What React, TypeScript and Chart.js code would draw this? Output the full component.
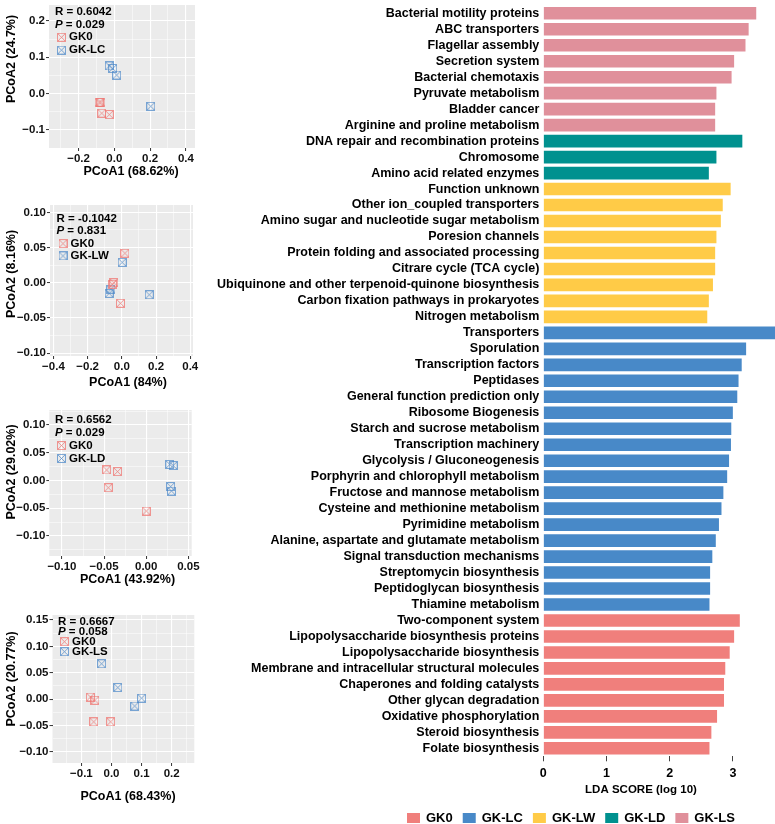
import React, { useEffect, useRef } from "react";
import { Chart, registerables } from "chart.js";

Chart.register(...registerables);

const FONT = "'Liberation Sans', Arial, Helvetica, sans-serif";
Chart.defaults.font.family = FONT;

// ---------- LEfSe: discriminant features (top to bottom) ----------
const features = [
  "Bacterial motility proteins",
  "ABC transporters",
  "Flagellar assembly",
  "Secretion system",
  "Bacterial chemotaxis",
  "Pyruvate metabolism",
  "Bladder cancer",
  "Arginine and proline metabolism",
  "DNA repair and recombination proteins",
  "Chromosome",
  "Amino acid related enzymes",
  "Function unknown",
  "Other ion_coupled transporters",
  "Amino sugar and nucleotide sugar metabolism",
  "Poresion channels",
  "Protein folding and associated processing",
  "Citrare cycle (TCA cycle)",
  "Ubiquinone and other terpenoid-quinone biosynthesis",
  "Carbon fixation pathways in prokaryotes",
  "Nitrogen metabolism",
  "Transporters",
  "Sporulation",
  "Transcription factors",
  "Peptidases",
  "General function prediction only",
  "Ribosome Biogenesis",
  "Starch and sucrose metabolism",
  "Transcription machinery",
  "Glycolysis / Gluconeogenesis",
  "Porphyrin and chlorophyll metabolism",
  "Fructose and mannose metabolism",
  "Cysteine and methionine metabolism",
  "Pyrimidine metabolism",
  "Alanine, aspartate and glutamate metabolism",
  "Signal transduction mechanisms",
  "Streptomycin biosynthesis",
  "Peptidoglycan biosynthesis",
  "Thiamine metabolism",
  "Two-component system",
  "Lipopolysaccharide biosynthesis proteins",
  "Lipopolysaccharide biosynthesis",
  "Membrane and intracellular structural molecules",
  "Chaperones and folding catalysts",
  "Other glycan degradation",
  "Oxidative phosphorylation",
  "Steroid biosynthesis",
  "Folate biosynthesis",
];

const ldaScores = [
  3.37, 3.25, 3.2, 3.02, 2.98, 2.74, 2.72, 2.72,
  3.15, 2.74, 2.62,
  2.965, 2.84, 2.81, 2.74, 2.72, 2.72, 2.685, 2.62, 2.595,
  3.68, 3.21, 3.14, 3.09, 3.07, 3.0, 2.975, 2.97, 2.94, 2.91, 2.85, 2.82, 2.78, 2.73, 2.675, 2.64, 2.64, 2.63,
  3.11, 3.02, 2.95, 2.88, 2.86, 2.86, 2.75, 2.66, 2.63,
];

const featureGroups = [
  "GK-LS", "GK-LS", "GK-LS", "GK-LS", "GK-LS", "GK-LS", "GK-LS", "GK-LS",
  "GK-LD", "GK-LD", "GK-LD",
  "GK-LW", "GK-LW", "GK-LW", "GK-LW", "GK-LW", "GK-LW", "GK-LW", "GK-LW", "GK-LW",
  "GK-LC", "GK-LC", "GK-LC", "GK-LC", "GK-LC", "GK-LC", "GK-LC", "GK-LC", "GK-LC",
  "GK-LC", "GK-LC", "GK-LC", "GK-LC", "GK-LC", "GK-LC", "GK-LC", "GK-LC", "GK-LC",
  "GK0", "GK0", "GK0", "GK0", "GK0", "GK0", "GK0", "GK0", "GK0",
];

const legendGroups = ["GK0", "GK-LC", "GK-LW", "GK-LD", "GK-LS"];
const ldaTicks = [0, 1, 2, 3];
const ldaMax = 3.667;

const groupColors: Record<string, string> = {
  GK0: "#F07F7C",
  "GK-LC": "#4889C8",
  "GK-LW": "#FFCB47",
  "GK-LD": "#00918F",
  "GK-LS": "#E0909B",
};

// ---------- PCoA: GK0 vs GK-LC ----------
const lcGk0X = [-0.085, -0.075, -0.07, -0.028];
const lcGk0Y = [-0.024, -0.024, -0.054, -0.058];
const lcX = [-0.028, -0.009, 0.013, 0.204];
const lcY = [0.076, 0.069, 0.051, -0.035];

// ---------- PCoA: GK0 vs GK-LW ----------
const lwGk0X = [0.018, -0.047, -0.055, -0.008];
const lwGk0Y = [0.042, 0.0, -0.002, -0.029];
const lwX = [0.002, -0.064, -0.074, 0.16];
const lwY = [0.029, -0.009, -0.015, -0.017];

// ---------- PCoA: GK0 vs GK-LD ----------
const ldGk0X = [-0.047, -0.034, -0.045, 0.0];
const ldGk0Y = [0.019, 0.016, -0.013, -0.055];
const ldX = [0.028, 0.032, 0.029, 0.03];
const ldY = [0.029, 0.027, -0.011, -0.019];

// ---------- PCoA: GK0 vs GK-LS ----------
const lsGk0X = [-0.07, -0.055, -0.059, -0.003];
const lsGk0Y = [0.004, -0.002, -0.043, -0.043];
const lsX = [-0.033, 0.021, 0.1, 0.077];
const lsY = [0.067, 0.022, 0.002, -0.013];

type PcoaSpec = {
  group: string;
  r: string;
  p: string;
  gk0X: number[];
  gk0Y: number[];
  grpX: number[];
  grpY: number[];
  xRange: [number, number];
  yRange: [number, number];
  xTicks: number[];
  yTicks: number[];
  xDec: number;
  yDec: number;
  xTitle: string;
  yTitle: string;
};

const pcoaPanels: PcoaSpec[] = [
  {
    group: "GK-LC", r: "0.6042", p: "0.029",
    gk0X: lcGk0X, gk0Y: lcGk0Y, grpX: lcX, grpY: lcY,
    xRange: [-0.365, 0.451], yRange: [-0.15, 0.244],
    xTicks: [-0.2, 0, 0.2, 0.4], yTicks: [-0.1, 0, 0.1, 0.2], xDec: 1, yDec: 1,
    xTitle: "PCoA1 (68.62%)", yTitle: "PCoA2 (24.7%)",
  },
  {
    group: "GK-LW", r: "-0.1042", p: "0.831",
    gk0X: lwGk0X, gk0Y: lwGk0Y, grpX: lwX, grpY: lwY,
    xRange: [-0.42, 0.416], yRange: [-0.104, 0.1105],
    xTicks: [-0.4, -0.2, 0, 0.2, 0.4], yTicks: [-0.1, -0.05, 0, 0.05, 0.1], xDec: 1, yDec: 2,
    xTitle: "PCoA1 (84%)", yTitle: "PCoA2 (8.16%)",
  },
  {
    group: "GK-LD", r: "0.6562", p: "0.029",
    gk0X: ldGk0X, gk0Y: ldGk0Y, grpX: ldX, grpY: ldY,
    xRange: [-0.115, 0.054], yRange: [-0.136, 0.127],
    xTicks: [-0.1, -0.05, 0, 0.05], yTicks: [-0.1, -0.05, 0, 0.05, 0.1], xDec: 2, yDec: 2,
    xTitle: "PCoA1 (43.92%)", yTitle: "PCoA2 (29.02%)",
  },
  {
    group: "GK-LS", r: "0.6667", p: "0.058",
    gk0X: lsGk0X, gk0Y: lsGk0Y, grpX: lsX, grpY: lsY,
    xRange: [-0.196, 0.275], yRange: [-0.121, 0.1595],
    xTicks: [-0.1, 0, 0.1, 0.2], yTicks: [-0.1, -0.05, 0, 0.05, 0.1, 0.15], xDec: 1, yDec: 2,
    xTitle: "PCoA1 (68.43%)", yTitle: "PCoA2 (20.77%)",
  },
];

// Page-space placement of each PCoA panel
type PanelLayout = {
  top: number; height: number;
  areaTop: number; areaBottom: number; areaLeft: number; areaRight: number;
  xTitleX: number; xTitleY: number; yTitleY: number;
  noteX: number; noteY: number; noteStep: number;
};

const panelLayouts: PanelLayout[] = [
  { top: 0, height: 182, areaTop: 0, areaBottom: 148, areaLeft: 49, areaRight: 197, xTitleX: 131, xTitleY: 172, yTitleY: 59, noteX: 55, noteY: 11.7, noteStep: 12.8 },
  { top: 190, height: 200, areaTop: 205, areaBottom: 356, areaLeft: 50, areaRight: 193, xTitleX: 128, xTitleY: 383, yTitleY: 274, noteX: 56.5, noteY: 219, noteStep: 12.3 },
  { top: 390, height: 200, areaTop: 410, areaBottom: 556, areaLeft: 49.3, areaRight: 191.7, xTitleX: 127.5, xTitleY: 580, yTitleY: 472, noteX: 55, noteY: 420, noteStep: 12.8 },
  { top: 590, height: 234, areaTop: 615, areaBottom: 763, areaLeft: 52.5, areaRight: 194.3, xTitleX: 128, xTitleY: 797, yTitleY: 679, noteX: 58, noteY: 621.7, noteStep: 10 },
];

const GK0_POINT = "rgba(238, 112, 108, 0.72)";
const GRP_POINT = "rgba(74, 134, 200, 0.72)";

function boxCross(color: string): HTMLCanvasElement {
  const c = document.createElement("canvas");
  c.width = 9;
  c.height = 9;
  const g = c.getContext("2d")!;
  g.strokeStyle = color;
  g.lineWidth = 1;
  g.strokeRect(0.5, 0.5, 8, 8);
  g.beginPath();
  g.moveTo(1, 1);
  g.lineTo(8, 8);
  g.moveTo(8, 1);
  g.lineTo(1, 8);
  g.stroke();
  return c;
}

function fmtTick(v: number, dec: number): string {
  const s = (Math.abs(v) < 1e-9 ? 0 : v).toFixed(dec);
  return s.replace("-", "\u2212");
}

// Major ticks plus ggplot-style minor grid positions halfway between them
function withMinor(majors: number[], min: number, max: number) {
  const out: { value: number; major: boolean }[] = [];
  const step = majors[1] - majors[0];
  const first = majors[0] - step / 2;
  if (first >= min) out.push({ value: first, major: false });
  majors.forEach((m, i) => {
    out.push({ value: m, major: true });
    const mid = i < majors.length - 1 ? (m + majors[i + 1]) / 2 : m + step / 2;
    if (mid <= max) out.push({ value: mid, major: false });
  });
  return out;
}

function zeroPad(s: any) {
  s.paddingTop = 0;
  s.paddingBottom = 0;
  s.paddingLeft = 0;
  s.paddingRight = 0;
}

function axisOptions(
  ticksList: number[], range: [number, number], dec: number,
  fit: (s: any) => void
) {
  return {
    type: "linear" as const,
    min: range[0],
    max: range[1],
    afterBuildTicks: (s: any) => {
      s.ticks = withMinor(ticksList, range[0], range[1]);
    },
    afterFit: (s: any) => {
      fit(s);
      zeroPad(s);
    },
    border: { display: false },
    grid: {
      color: "#FFFFFF",
      lineWidth: (ctx: any) => (ctx.tick && ctx.tick.major ? 1.1 : 0.5),
      tickColor: (ctx: any) => (ctx.tick && ctx.tick.major ? "#333333" : "rgba(0,0,0,0)"),
      tickLength: 3,
      tickWidth: 1,
    },
    ticks: {
      autoSkip: false,
      maxRotation: 0,
      padding: 1,
      color: "#111111",
      font: { size: 11.5, weight: "bold" as const, family: FONT },
      callback: (v: any, i: number, arr: any[]) =>
        arr[i] && arr[i].major ? fmtTick(Number(v), dec) : "",
    },
  };
}

function PcoaPanel({ spec, layout }: { spec: PcoaSpec; layout: PanelLayout }) {
  const ref = useRef<HTMLCanvasElement>(null);
  useEffect(() => {
    const canvas = ref.current!;
    const W = 200;
    const top = layout.top;
    const H = layout.height;
    const gk0Img = boxCross(GK0_POINT);
    const grpImg = boxCross(GRP_POINT);

    const panelPlugin = {
      id: "pcoaPanel",
      beforeDraw(chart: any) {
        const { ctx, chartArea: a } = chart;
        ctx.save();
        ctx.fillStyle = "#EBEBEB";
        ctx.fillRect(a.left, a.top, a.right - a.left, a.bottom - a.top);
        ctx.restore();
      },
      afterDraw(chart: any) {
        const ctx = chart.ctx as CanvasRenderingContext2D;
        ctx.save();
        ctx.fillStyle = "#000000";
        // axis titles
        ctx.font = `bold 12.5px ${FONT}`;
        ctx.textAlign = "center";
        ctx.textBaseline = "middle";
        ctx.fillText(spec.xTitle, layout.xTitleX, layout.xTitleY - top);
        ctx.save();
        ctx.translate(12, layout.yTitleY - top);
        ctx.rotate(-Math.PI / 2);
        ctx.fillText(spec.yTitle, 0, 0);
        ctx.restore();

        // statistic + legend block
        const x0 = layout.noteX;
        let y = layout.noteY - top;
        ctx.textAlign = "left";
        ctx.font = `bold 11.5px ${FONT}`;
        ctx.fillText(`R = ${spec.r}`, x0, y);
        y += layout.noteStep;
        ctx.font = `italic bold 11.5px ${FONT}`;
        ctx.fillText("P", x0, y);
        const pw = ctx.measureText("P").width;
        ctx.font = `bold 11.5px ${FONT}`;
        ctx.fillText(` = ${spec.p}`, x0 + pw, y);
        const items: [HTMLCanvasElement, string][] = [
          [gk0Img, "GK0"],
          [grpImg, spec.group],
        ];
        items.forEach(([img, label]) => {
          y += layout.noteStep;
          ctx.drawImage(img, x0 + 2, y - 4.5);
          ctx.fillText(label, x0 + 14, y);
        });
        ctx.restore();
      },
    };

    const chart = new Chart(canvas, {
      type: "scatter",
      data: {
        datasets: [
          {
            label: "GK0",
            data: spec.gk0X.map((x, i) => ({ x, y: spec.gk0Y[i] })),
            pointStyle: gk0Img as any,
            pointRadius: 4,
          },
          {
            label: spec.group,
            data: spec.grpX.map((x, i) => ({ x, y: spec.grpY[i] })),
            pointStyle: grpImg as any,
            pointRadius: 4,
          },
        ],
      },
      options: {
        animation: false,
        responsive: false,
        layout: {
          padding: { left: 0, right: W - layout.areaRight, top: layout.areaTop - top, bottom: 0 },
        },
        plugins: { legend: { display: false }, tooltip: { enabled: false } },
        scales: {
          x: axisOptions(spec.xTicks, spec.xRange, spec.xDec, (s: any) => {
            s.height = top + H - layout.areaBottom;
          }) as any,
          y: axisOptions(spec.yTicks, spec.yRange, spec.yDec, (s: any) => {
            s.width = layout.areaLeft;
          }) as any,
        },
      },
      plugins: [panelPlugin],
    });
    return () => chart.destroy();
  }, [spec, layout]);

  return (
    <canvas
      ref={ref}
      width={200}
      height={layout.height}
      style={{ position: "absolute", left: 0, top: layout.top, width: 200, height: layout.height }}
    />
  );
}

// ---------- LDA bar chart ----------
const BAR_LEFT = 200;
const BAR_W = 575;
const BAR_H = 824;

function LdaChart() {
  const ref = useRef<HTMLCanvasElement>(null);
  useEffect(() => {
    const canvas = ref.current!;
    const decorPlugin = {
      id: "ldaDecor",
      afterDraw(chart: any) {
        const ctx = chart.ctx as CanvasRenderingContext2D;
        ctx.save();
        ctx.fillStyle = "#000000";
        ctx.font = `bold 11.5px ${FONT}`;
        ctx.textAlign = "center";
        ctx.textBaseline = "middle";
        ctx.fillText("LDA SCORE (log 10)", 641 - BAR_LEFT, 790);

        // group legend
        ctx.font = `bold 13px ${FONT}`;
        ctx.textAlign = "left";
        let x = 407 - BAR_LEFT;
        const yc = 818;
        legendGroups.forEach((g) => {
          ctx.fillStyle = groupColors[g];
          ctx.fillRect(x, yc - 5, 13, 10);
          x += 13 + 6;
          ctx.fillStyle = "#000000";
          ctx.fillText(g, x, yc);
          x += ctx.measureText(g).width + 10;
        });
        ctx.restore();
      },
    };

    const chart = new Chart(canvas, {
      type: "bar",
      data: {
        labels: features,
        datasets: [
          {
            label: "LDA",
            data: ldaScores,
            backgroundColor: featureGroups.map((g) => groupColors[g]),
            borderWidth: 0,
            categoryPercentage: 1,
            barPercentage: 0.79,
          },
        ],
      },
      options: {
        indexAxis: "y",
        animation: false,
        responsive: false,
        layout: { padding: { left: 0, right: 0, top: 5.3, bottom: BAR_H - 756.3 - 22 } },
        plugins: { legend: { display: false }, tooltip: { enabled: false } },
        scales: {
          x: {
            type: "linear",
            min: 0,
            max: ldaMax,
            afterBuildTicks: (s: any) => {
              s.ticks = ldaTicks.map((v) => ({ value: v }));
            },
            afterFit: (s: any) => {
              s.height = 22;
              zeroPad(s);
            },
            border: { display: false },
            grid: {
              display: true,
              drawOnChartArea: false,
              drawTicks: true,
              tickLength: 5,
              tickColor: "#444444",
              tickWidth: 1,
            },
            ticks: {
              autoSkip: false,
              maxRotation: 0,
              padding: 5,
              color: "#000000",
              font: { size: 12.5, weight: "bold", family: FONT },
              callback: (v: any) => String(v),
            },
          },
          y: {
            type: "category",
            afterFit: (s: any) => {
              s.width = 343.3;
              zeroPad(s);
            },
            border: { display: false },
            grid: { display: false, drawTicks: false },
            ticks: {
              autoSkip: false,
              padding: 4,
              color: "#000000",
              font: { size: 12.5, weight: "bold", family: FONT },
            },
          },
        },
      },
      plugins: [decorPlugin],
    });
    return () => chart.destroy();
  }, []);

  return (
    <canvas
      ref={ref}
      width={BAR_W}
      height={BAR_H}
      style={{ position: "absolute", left: BAR_LEFT, top: 0, width: BAR_W, height: BAR_H }}
    />
  );
}

export default function App() {
  return (
    <div
      style={{
        position: "fixed",
        left: 0,
        top: 0,
        width: 775,
        height: 824,
        background: "#FFFFFF",
        overflow: "hidden",
      }}
    >
      <LdaChart />
      {pcoaPanels.map((spec, i) => (
        <PcoaPanel key={spec.group} spec={spec} layout={panelLayouts[i]} />
      ))}
    </div>
  );
}
